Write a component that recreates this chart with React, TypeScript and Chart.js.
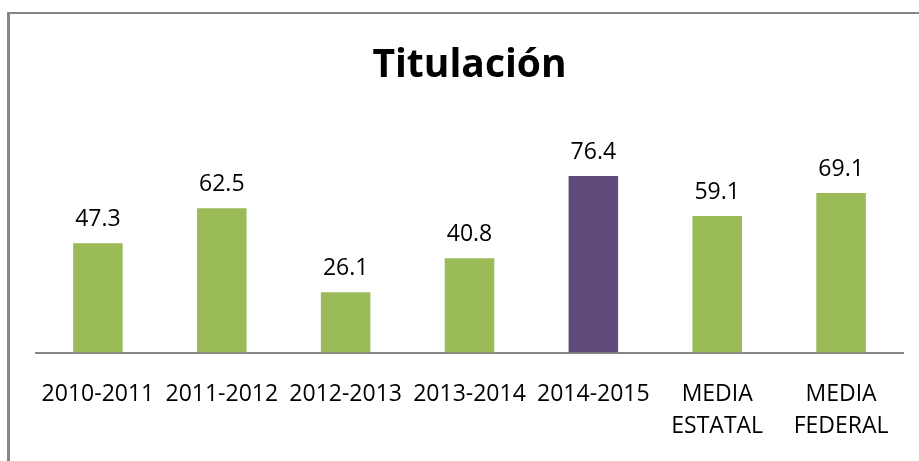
import React, { useEffect, useRef } from "react";
import { Chart, registerables } from "chart.js";

Chart.register(...registerables);

const categories: (string | string[])[] = [
  "2010-2011",
  "2011-2012",
  "2012-2013",
  "2013-2014",
  "2014-2015",
  ["MEDIA", "ESTATAL"],
  ["MEDIA", "FEDERAL"],
];
const values = [47.3, 62.5, 26.1, 40.8, 76.4, 59.1, 69.1];
const barColors = ["#9BBB59", "#9BBB59", "#9BBB59", "#9BBB59", "#604A7B", "#9BBB59", "#9BBB59"];
const titleText = "Titulación";

const FONT = "'Open Sans', sans-serif";

const valueLabels = {
  id: "valueLabels",
  afterDatasetsDraw(chart: any) {
    const ctx = chart.ctx;
    const meta = chart.getDatasetMeta(0);
    ctx.save();
    ctx.font = `23px ${FONT}`;
    ctx.fillStyle = "#000";
    ctx.textAlign = "center";
    ctx.textBaseline = "alphabetic";
    meta.data.forEach((el: any, i: number) => {
      ctx.fillText(values[i].toFixed(1), el.x, el.y - 17);
    });
    ctx.restore();
  },
};

export default function App() {
  const ref = useRef<HTMLCanvasElement>(null);
  useEffect(() => {
    if (!ref.current) return;
    const chart = new Chart(ref.current, {
      type: "bar",
      data: {
        labels: categories,
        datasets: [
          {
            data: values,
            backgroundColor: barColors,
            borderWidth: 0,
            categoryPercentage: 1,
            barPercentage: 0.4,
          },
        ],
      },
      options: {
        responsive: false,
        animation: false,
        layout: { padding: { left: 36, right: 16, top: 42, bottom: 0 } },
        plugins: {
          legend: { display: false },
          tooltip: { enabled: false },
          title: {
            display: true,
            text: titleText,
            color: "#000",
            font: { family: FONT, size: 39, weight: "bold" },
            padding: { top: 0, bottom: 20 },
          },
        },
        scales: {
          x: {
            grid: { display: false },
            border: { display: true, color: "#868686", width: 2 },
            ticks: {
              color: "#000",
              font: { family: FONT, size: 23, lineHeight: 1.4 },
              padding: 18,
              maxRotation: 0,
              autoSkip: false,
            },
          },
          y: {
            display: false,
            min: 0,
            max: 105.5,
          },
        },
      },
      plugins: [valueLabels],
    });
    return () => chart.destroy();
  }, []);
  return (
    <div style={{ position: "fixed", left: 0, top: 0, width: 919, height: 461, background: "#fff" }}>
      <canvas ref={ref} width={919} height={461} style={{ position: "absolute", left: 0, top: 0 }} />
      <div
        style={{
          position: "absolute",
          left: 7,
          top: 12,
          width: 1000,
          height: 1000,
          borderLeft: "3px solid #868686",
          borderTop: "2px solid #868686",
          pointerEvents: "none",
        }}
      />
    </div>
  );
}
